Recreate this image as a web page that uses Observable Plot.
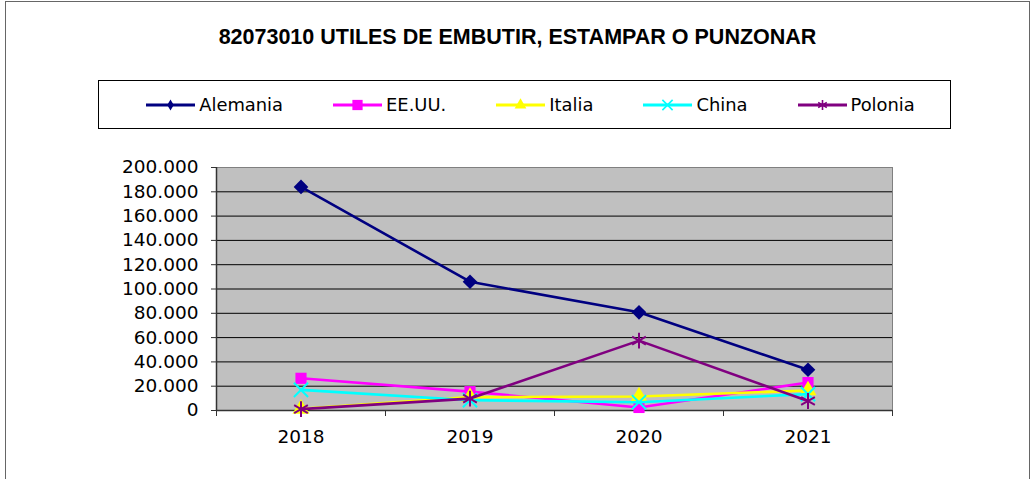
<!DOCTYPE html>
<html>
<head>
<meta charset="utf-8">
<script src="https://cdn.jsdelivr.net/npm/d3@7"></script>
<script src="https://cdn.jsdelivr.net/npm/@observablehq/plot@0.6"></script>
<style>
  html, body { margin: 0; padding: 0; background: #fff; }
  #wrap { position: relative; width: 1035px; height: 479px; overflow: hidden; background: #fff; }
  #border { position: absolute; left: 5px; top: 1px; width: 1025px; height: 540px; border: 1px solid #666; box-sizing: border-box; }
  #title { position: absolute; left: 0; top: 27px; width: 1035px; text-align: center;
           font: bold 21.5px "Liberation Sans", Arial, sans-serif; line-height: 21.5px; color: #000; }
  #legend { position: absolute; left: 98px; top: 80px; width: 853px; height: 49px; box-sizing: border-box;
            border: 1px solid #000; display: flex; align-items: center; justify-content: center; gap: 50px;
            font: 17.9px "DejaVu Sans", Verdana, sans-serif; color: #000; padding-left: 12px; }
  .item { display: flex; align-items: center; gap: 4px; }
  .item svg { display: block; }
  #chart { position: absolute; left: 0; top: 150px; }
</style>
</head>
<body>
<div id="wrap">
  <div id="border"></div>
  <div id="title"></div>
  <div id="legend"></div>
  <div id="chart"></div>
</div>
<script>
// ---- data ----
const titleText = "82073010 UTILES DE EMBUTIR, ESTAMPAR O PUNZONAR";
const years = [2018, 2019, 2020, 2021];
const seriesNames = ["Alemania", "EE.UU.", "Italia", "China", "Polonia"];
const alemania = [184000, 106000, 80800, 33500];
const eeuu     = [26500, 15500, 2500, 23000];
const italia   = [1300, 11000, 11500, 16500];
const china    = [17000, 8500, 6800, 13500];
const polonia  = [1100, 9800, 57500, 7800];
const yTicks = [0, 20000, 40000, 60000, 80000, 100000, 120000, 140000, 160000, 180000, 200000];

// ---- styles ----
const seriesValues = [alemania, eeuu, italia, china, polonia];
const styles = {
  "Alemania": {color: "#000080", symbol: "diamond2", d3symbol: d3.symbolDiamond, lsize: 36, fill: true, r: 6.6},
  "EE.UU.":   {color: "#FF00FF", symbol: "square", d3symbol: d3.symbolSquare, lsize: 105, fill: true, r: 6.3},
  "Italia":   {color: "#FFFF00", symbol: "triangle", d3symbol: d3.symbolTriangle, lsize: 60, fill: true, r: 6.3},
  "China":    {color: "#00FFFF", symbol: "times", d3symbol: d3.symbolTimes, lsize: 70, fill: false, r: 6.5},
  "Polonia":  {color: "#800080", symbol: "asterisk", d3symbol: d3.symbolAsterisk, lsize: 70, fill: false, r: 7.5}
};

const rows = seriesNames.flatMap((name, si) =>
  years.map((yr, i) => ({series: name, year: yr, value: seriesValues[si][i]})));

const bounds = [years[0] - 0.5, ...years.map(y => y + 0.5)];
const fmt = d3.formatLocale({thousands: ".", grouping: [3], decimal: ","}).format(",d");

document.getElementById("title").textContent = titleText;

// ---- legend ----
const legend = d3.select("#legend");
for (const name of seriesNames) {
  const st = styles[name];
  const item = legend.append("div").attr("class", "item");
  const svg = item.append("svg").attr("width", 49).attr("height", 20);
  svg.append("line").attr("x1", 0).attr("x2", 49).attr("y1", 10).attr("y2", 10)
    .attr("stroke", st.color).attr("stroke-width", 3);
  svg.append("path").attr("transform", "translate(24.5,10)")
    .attr("d", d3.symbol(st.d3symbol, st.lsize)())
    .attr("fill", st.fill ? st.color : "none")
    .attr("stroke", st.color).attr("stroke-width", st.fill ? 0 : 1.6);
  item.append("span").text(name);
}

// ---- chart ----
const seriesMarks = seriesNames.flatMap(name => {
  const st = styles[name];
  const data = rows.filter(d => d.series === name);
  return [
    Plot.line(data, {x: "year", y: "value", stroke: st.color, strokeWidth: 2.6}),
    Plot.dot(data, {x: "year", y: "value", symbol: () => st.symbol, r: st.r,
      fill: st.fill ? st.color : "none", stroke: st.color, strokeWidth: st.fill ? 0 : 2})
  ];
});

const chart = Plot.plot({
  width: 1035,
  height: 300,
  marginTop: 17,
  marginBottom: 40,
  marginLeft: 216,
  marginRight: 143,
  style: {fontFamily: "'DejaVu Sans', Verdana, sans-serif", fontSize: "18.5px", background: "transparent", color: "#000"},
  x: {type: "linear", domain: [bounds[0], bounds[bounds.length - 1]]},
  y: {type: "linear", domain: [0, 200000]},
  symbol: {type: "identity"},
  marks: [
    Plot.frame({fill: "#C0C0C0", stroke: null}),
    Plot.gridY(yTicks, {stroke: "#000", strokeOpacity: 1, strokeWidth: 1}),
    Plot.frame({fill: "none", stroke: "#808080"}),
    Plot.axisY(yTicks, {tickFormat: fmt, tickSize: 5, tickPadding: 13, label: null, stroke: "#333"}),
    Plot.axisX(bounds, {tickSize: 6, tickFormat: () => "", label: null, stroke: "#333"}),
    Plot.axisX(years, {tickSize: 0, tickPadding: 19, tickFormat: d => String(d), label: null}),
    Plot.ruleX([bounds[0]], {stroke: "#333", strokeWidth: 1.5}),
    Plot.ruleY([0], {stroke: "#333", strokeWidth: 1.5}),
    ...seriesMarks
  ]
});
document.getElementById("chart").appendChild(chart);
</script>
</body>
</html>
